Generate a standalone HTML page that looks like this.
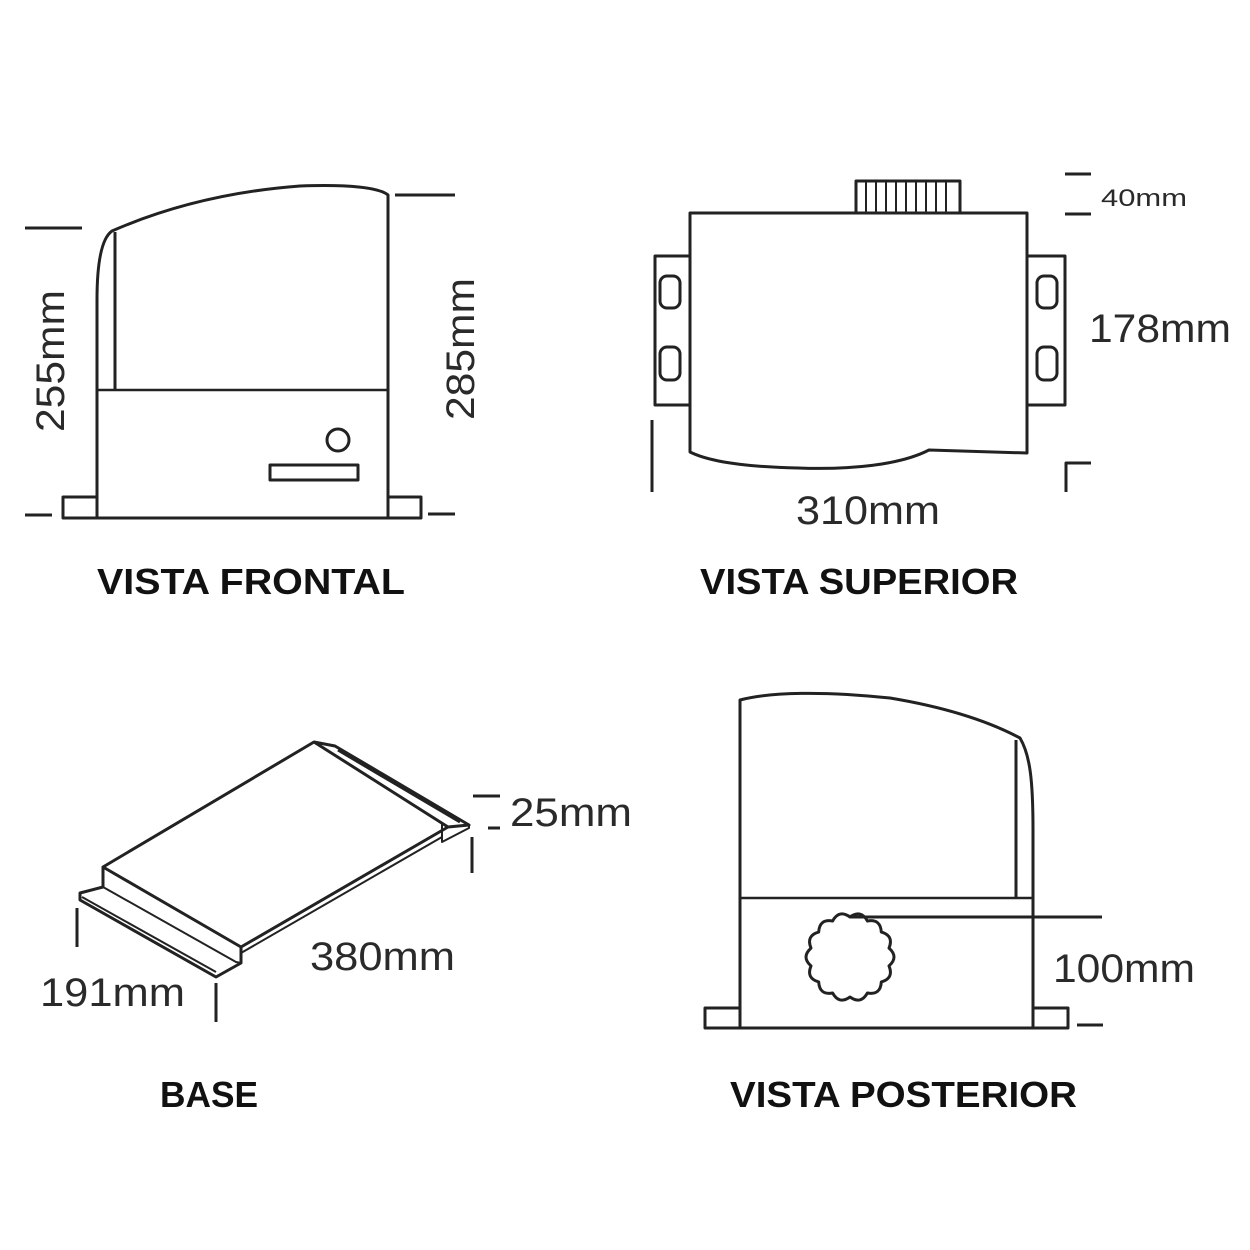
<!DOCTYPE html>
<html><head><meta charset="utf-8"><style>
html,body{margin:0;padding:0;background:#fff;}
svg{display:block;}
text{font-family:"Liberation Sans",Arial,sans-serif;fill:#2a2a2a;}
.b{font-weight:bold;fill:#111;}
</style></head><body>
<svg width="1250" height="1250" viewBox="0 0 1250 1250" xmlns="http://www.w3.org/2000/svg">
<rect width="1250" height="1250" fill="#fff"/>
<g fill="none" stroke="#222" stroke-width="3" stroke-linejoin="round">
<!-- FRONT VIEW -->
<path d="M97,518 L97,300 C97,260 102,238 112,231 C160,210 220,192 300,186 C350,184 380,188 388,195 L388,518 Z"/>
<line x1="115" y1="232" x2="115" y2="390"/>
<line x1="97" y1="390" x2="388" y2="390" stroke-width="2.5"/>
<rect x="63" y="497" width="34" height="21"/>
<rect x="388" y="497" width="33" height="21"/>
<circle cx="338" cy="440" r="11"/>
<rect x="270" y="465" width="88" height="15"/>
<line x1="25" y1="228" x2="82" y2="228"/>
<line x1="25" y1="515" x2="52" y2="515"/>
<line x1="395" y1="195" x2="455" y2="195"/>
<line x1="428" y1="514" x2="455" y2="514"/>

<!-- TOP VIEW -->
<path d="M690,213 L1027,213 L1027,453 L929,450 C900,465 850,470 798,468 C750,467 710,462 690,452 Z"/>
<rect x="856" y="181" width="104" height="32"/>
<g stroke-width="2">
<line x1="866" y1="181" x2="866" y2="213"/><line x1="876" y1="181" x2="876" y2="213"/>
<line x1="886" y1="181" x2="886" y2="213"/><line x1="896" y1="181" x2="896" y2="213"/>
<line x1="906" y1="181" x2="906" y2="213"/><line x1="916" y1="181" x2="916" y2="213"/>
<line x1="926" y1="181" x2="926" y2="213"/><line x1="936" y1="181" x2="936" y2="213"/>
<line x1="946" y1="181" x2="946" y2="213"/>
</g>
<rect x="655" y="256" width="35" height="149"/>
<rect x="1027" y="256" width="38" height="149"/>
<rect x="660" y="276" width="20" height="32" rx="7"/>
<rect x="660" y="347" width="20" height="33" rx="7"/>
<rect x="1037" y="276" width="20" height="32" rx="7"/>
<rect x="1037" y="347" width="20" height="33" rx="7"/>
<line x1="1065" y1="174" x2="1091" y2="174"/>
<line x1="1065" y1="214" x2="1091" y2="214"/>
<line x1="652" y1="420" x2="652" y2="492"/>
<polyline points="1066,492 1066,463 1091,463"/>

<!-- BASE -->
<polygon points="314,742 103,867 241,947 448,827"/>
<polyline points="314,742 335,746 469,825 448,827"/>
<polyline points="338,750 460,822"/>
<polyline points="103,867 103,887 80,893 80,900 216,977 241,963 241,947"/>
<polyline points="103,887 236,962 241,963" stroke-width="2"/>
<polyline points="82,897 216,972" stroke-width="2"/>
<polyline points="241,953 442,837" stroke-width="2"/>
<polyline points="448,827 442,823 442,842 469,828 469,825" stroke-width="2"/>
<line x1="473" y1="796" x2="500" y2="796"/>
<line x1="488" y1="828" x2="500" y2="828"/>
<line x1="472" y1="837" x2="472" y2="873"/>
<line x1="77" y1="908" x2="77" y2="947"/>
<line x1="216" y1="983" x2="216" y2="1022"/>

<!-- POSTERIOR VIEW -->
<path d="M740,1028 L740,700 C770,692 823,691 890,698 C950,708 990,722 1020,738 C1030,755 1033,780 1033,830 L1033,1028 Z"/>
<line x1="1016" y1="740" x2="1016" y2="898"/>
<line x1="740" y1="898" x2="1033" y2="898" stroke-width="2.5"/>
<line x1="850" y1="917" x2="1102" y2="917"/>
<rect x="705" y="1008" width="35" height="20"/>
<rect x="1033" y="1008" width="35" height="20"/>
<line x1="1077" y1="1025" x2="1103" y2="1025"/>
<path d="M850,917 Q860.9,909.2 867.4,921 Q880.6,918.7 881.3,932.1 Q894.1,935.7 889,948.1 Q899,957 889,965.9 Q894.1,978.3 881.3,981.9 Q880.6,995.3 867.4,993 Q860.9,1004.8 850,997 Q839.1,1004.8 832.6,993 Q819.4,995.3 818.7,981.9 Q805.9,978.3 811,965.9 Q801,957 811,948.1 Q805.9,935.7 818.7,932.1 Q819.4,918.7 832.6,921 Q839.1,909.2 850,917 Z"/>
</g>

<!-- Text -->
<text x="0" y="0" font-size="40" transform="translate(64,432) rotate(-90)" textLength="142" lengthAdjust="spacingAndGlyphs">255mm</text>
<text x="0" y="0" font-size="40" transform="translate(474,420) rotate(-90)" textLength="142" lengthAdjust="spacingAndGlyphs">285mm</text>
<text x="1101" y="206" font-size="24" textLength="86" lengthAdjust="spacingAndGlyphs">40mm</text>
<text x="1089" y="342" font-size="40" textLength="142" lengthAdjust="spacingAndGlyphs">178mm</text>
<text x="796" y="524" font-size="40" textLength="144" lengthAdjust="spacingAndGlyphs">310mm</text>
<text x="510" y="826" font-size="40" textLength="122" lengthAdjust="spacingAndGlyphs">25mm</text>
<text x="310" y="970" font-size="40" textLength="145" lengthAdjust="spacingAndGlyphs">380mm</text>
<text x="40" y="1006" font-size="40" textLength="145" lengthAdjust="spacingAndGlyphs">191mm</text>
<text x="1053" y="982" font-size="40" textLength="142" lengthAdjust="spacingAndGlyphs">100mm</text>

<text class="b" x="97" y="594" font-size="36" textLength="308" lengthAdjust="spacingAndGlyphs">VISTA FRONTAL</text>
<text class="b" x="700" y="594" font-size="36" textLength="318" lengthAdjust="spacingAndGlyphs">VISTA SUPERIOR</text>
<text class="b" x="160" y="1107" font-size="36" textLength="98" lengthAdjust="spacingAndGlyphs">BASE</text>
<text class="b" x="730" y="1107" font-size="36" textLength="347" lengthAdjust="spacingAndGlyphs">VISTA POSTERIOR</text>
</svg>
</body></html>
